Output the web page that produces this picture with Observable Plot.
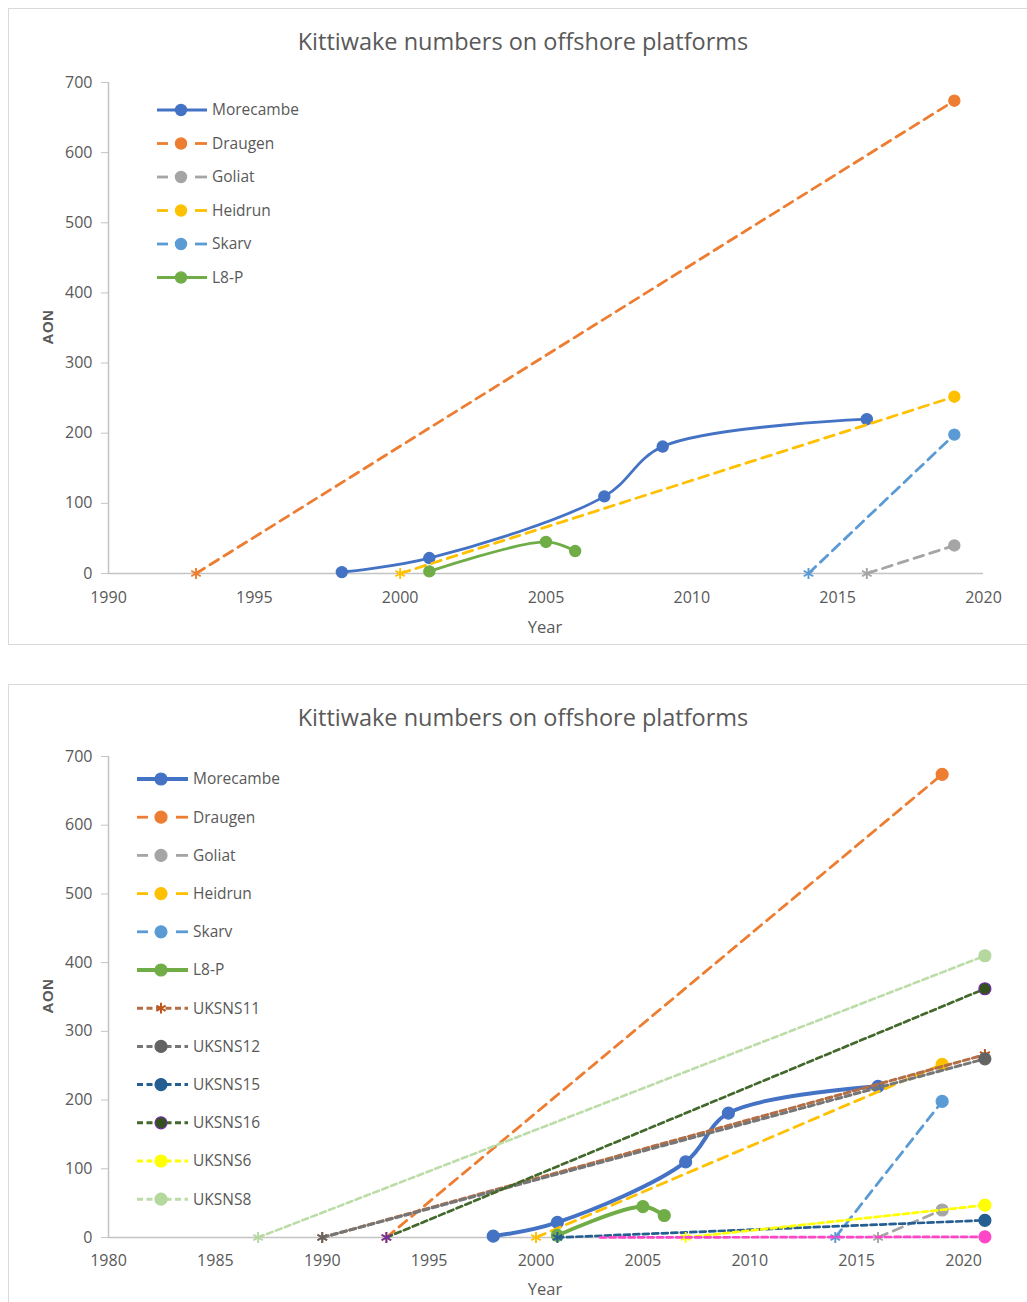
<!DOCTYPE html>
<html>
<head>
<meta charset="utf-8">
<script src="https://cdn.jsdelivr.net/npm/d3@7"></script>
<script src="https://cdn.jsdelivr.net/npm/@observablehq/plot@0.6"></script>
<style>
  html, body { margin: 0; padding: 0; background: #fff; }
  #page { position: relative; width: 1027px; height: 1302px; overflow: hidden; background: #fff;
          font-family: "Open Sans", sans-serif; color: #595959; }
  .box { position: absolute; border: 1.5px solid #d9d9d9; box-sizing: border-box; }
  .abs { position: absolute; }
  .title { position: absolute; font-size: 23.5px; color: #595959; white-space: nowrap; transform: translate(-50%, -50%); }
  .xlab { position: absolute; font-size: 16.5px; color: #595959; transform: translate(-50%, -50%); }
  .ylab { position: absolute; font-size: 15px; font-weight: 600; color: #595959; font-family: "Liberation Sans", Arial, sans-serif;
          transform: translate(-50%, -50%) rotate(-90deg); letter-spacing: 0.5px; }
</style>
</head>
<body>
<div id="page"></div>
<script>
// Kittiwake AON (apparently occupied nests) counted on each platform, [year, AON]
const morecambe = [[1998, 2], [2001, 22], [2007, 110], [2009, 181], [2016, 220]];
const draugen   = [[1993, 0], [2019, 674]];
const goliat    = [[2016, 0], [2019, 40]];
const heidrun   = [[2000, 0], [2019, 252]];
const skarv     = [[2014, 0], [2019, 198]];
const l8p       = [[2001, 3], [2005, 45], [2006, 32]];
const uksns11   = [[1990, 0], [2021, 266]];
const uksns12   = [[1990, 0], [2021, 260]];
const uksns15   = [[2001, 0], [2021, 25]];
const uksns16   = [[1993, 0], [2021, 362]];
const uksns6    = [[2007, 0], [2021, 47]];
const uksns8    = [[1987, 0], [2021, 410]];
const unlisted  = [[2003, 0], [2021, 1]];

const yTicks = [0, 100, 200, 300, 400, 500, 600, 700];
const xTicksTop = [1990, 1995, 2000, 2005, 2010, 2015, 2020];
const xTicksBottom = [1980, 1985, 1990, 1995, 2000, 2005, 2010, 2015, 2020];

const seriesData = {
  "Morecambe": morecambe, "Draugen": draugen, "Goliat": goliat, "Heidrun": heidrun,
  "Skarv": skarv, "L8-P": l8p, "UKSNS11": uksns11, "UKSNS12": uksns12, "UKSNS15": uksns15,
  "UKSNS16": uksns16, "UKSNS6": uksns6, "UKSNS8": uksns8, "unlisted": unlisted
};

// Line and marker styling per series
const styles = {
  "Morecambe": {color: "#4472C4", mfill: "#4472C4", mstroke: "#4472C4", width: 2.8, smooth: true, kind: "solid"},
  "Draugen":   {color: "#ED7D31", mfill: "#ED7D31", mstroke: "#ED7D31", width: 2.8, kind: "long"},
  "Goliat":    {color: "#A5A5A5", mfill: "#A5A5A5", mstroke: "#A5A5A5", width: 2.8, kind: "long"},
  "Heidrun":   {color: "#FFC000", mfill: "#FFC000", mstroke: "#FFC000", width: 2.8, kind: "long"},
  "Skarv":     {color: "#5B9BD5", mfill: "#5B9BD5", mstroke: "#5B9BD5", width: 2.8, kind: "long"},
  "L8-P":      {color: "#70AD47", mfill: "#70AD47", mstroke: "#70AD47", width: 2.8, smooth: true, kind: "solid"},
  "UKSNS11":   {color: "#B36E45", mfill: "none", mstroke: "#BF5519", width: 3, kind: "short", symbol: "asterisk"},
  "UKSNS12":   {color: "#767676", mfill: "#636363", mstroke: "#636363", width: 3, kind: "short"},
  "UKSNS15":   {color: "#255E91", mfill: "#255E91", mstroke: "#255E91", width: 2.7, kind: "short"},
  "UKSNS16":   {color: "#43682B", mfill: "#33521F", mstroke: "#7030A0", width: 2.7, kind: "short"},
  "UKSNS6":    {color: "#FFFF00", mfill: "#FFFF00", mstroke: "#FFFF00", width: 2.7, kind: "short"},
  "UKSNS8":    {color: "#BCDCA8", mfill: "#B4D89E", mstroke: "#B4D89E", width: 2.6, kind: "short"},
  "unlisted":  {color: "#FF45C8", mfill: "#FF45C8", mstroke: "#FF45C8", width: 2.7, kind: "short", hideStart: true}
};
const dashes = {solid: null, long: "10,6.5", short: "6,3.5"};

const page = document.getElementById("page");

function addBox(left, top, width, height) {
  const b = document.createElement("div");
  b.className = "box";
  Object.assign(b.style, {left: left + "px", top: top + "px", width: width + "px", height: height + "px"});
  page.appendChild(b);
}
function addText(cls, text, x, y) {
  const t = document.createElement("div");
  t.className = cls;
  t.textContent = text;
  Object.assign(t.style, {left: x + "px", top: y + "px"});
  page.appendChild(t);
}

function makeChart(cfg) {
  const marks = [
    Plot.ruleX([cfg.xDomain[0]], {stroke: "#c4c4c4", strokeWidth: 1.5}),
    Plot.ruleY([0], {stroke: "#c4c4c4", strokeWidth: 1.5}),
    Plot.axisY({ticks: yTicks, tickSize: 7, tickPadding: 9, stroke: "#c4c4c4", fill: "#595959",
                label: null, tickFormat: d => String(d)}),
    Plot.axisX({ticks: cfg.xTicks, tickSize: 0, tickPadding: cfg.xPad, fill: "#595959",
                label: null, tickFormat: d => String(d)})
  ];
  for (const name of cfg.series) {
    const st = styles[name];
    const rows = seriesData[name].map(([year, aon]) => ({year, aon}));
    const w = st.width * (st.kind === "solid" ? cfg.kSolid : 1);
    marks.push(Plot.line(rows, {
      x: "year", y: "aon", stroke: st.color,
      strokeWidth: w,
      strokeDasharray: dashes[st.kind],
      curve: st.smooth ? "catmull-rom" : "linear"
    }));
    if (!st.hideStart) {
      marks.push(Plot.dot(rows.filter(d => d.aon === 0), {
        x: "year", y: "aon", symbol: "asterisk", r: 5.2, stroke: st.mstroke, strokeWidth: 1.9
      }));
    }
    const nonzero = rows.filter(d => d.aon !== 0);
    if (st.symbol === "asterisk") {
      marks.push(Plot.dot(nonzero, {x: "year", y: "aon", symbol: "asterisk", r: 5.4, stroke: st.mstroke, strokeWidth: 2}));
    } else {
      marks.push(Plot.dot(nonzero, {x: "year", y: "aon", r: cfg.r, fill: st.mfill,
                                    stroke: st.mstroke, strokeWidth: 1.2}));
    }
  }
  const svg = Plot.plot({
    width: cfg.width, height: cfg.height,
    marginLeft: cfg.ml, marginRight: cfg.mr, marginTop: cfg.mt, marginBottom: cfg.mb,
    x: {type: "linear", domain: cfg.xDomain},
    y: {type: "linear", domain: [0, 700]},
    style: {fontFamily: "Open Sans, sans-serif", fontSize: "16px", background: "transparent", overflow: "visible"},
    marks
  });
  svg.classList.add("abs");
  svg.style.left = cfg.left + "px";
  svg.style.top = cfg.top + "px";
  page.appendChild(svg);
}

function makeLegend(cfg) {
  const svg = d3.select(page).append("svg")
    .attr("class", "abs")
    .style("left", "0px").style("top", cfg.top0 + "px")
    .attr("width", 400).attr("height", cfg.step * cfg.series.length + 20)
    .style("overflow", "visible");
  cfg.series.forEach((name, i) => {
    const st = styles[name];
    const y = cfg.y0 + i * cfg.step - cfg.top0;
    const g = svg.append("g");
    const x0 = cfg.x0, x1 = cfg.x0 + cfg.len, xm = cfg.xm;
    if (st.kind === "long") {
      g.append("line").attr("x1", x0).attr("x2", x0 + 11).attr("y1", y).attr("y2", y)
        .attr("stroke", st.color).attr("stroke-width", 2.8);
      g.append("line").attr("x1", x1 - 12).attr("x2", x1).attr("y1", y).attr("y2", y)
        .attr("stroke", st.color).attr("stroke-width", 2.8);
    } else {
      g.append("line").attr("x1", x0).attr("x2", x1).attr("y1", y).attr("y2", y)
        .attr("stroke", st.color).attr("stroke-width", st.kind === "solid" ? cfg.solidW : 3)
        .attr("stroke-dasharray", dashes[st.kind]);
    }
    if (st.symbol === "asterisk") {
      const a = d3.symbol(d3.symbolAsterisk, 80)();
      g.append("path").attr("d", a).attr("transform", `translate(${xm},${y})`)
        .attr("fill", "none").attr("stroke", st.mstroke).attr("stroke-width", 2);
    } else {
      g.append("circle").attr("cx", xm).attr("cy", y).attr("r", cfg.r)
        .attr("fill", st.mfill).attr("stroke", st.mstroke).attr("stroke-width", 1.2);
    }
    g.append("text").attr("x", x1 + 5).attr("y", y).attr("dy", "0.35em")
      .attr("fill", "#595959").style("font-family", "Open Sans, sans-serif").style("font-size", "15.5px")
      .text(name);
  });
}

// Upper chart: six platforms
addBox(8, 8, 1040, 637);
makeChart({
  left: 0, top: 0, width: 1027, height: 645,
  ml: 108, mr: 44, mt: 82, mb: 72, xPad: 18,
  xDomain: [1990, 2020], xTicks: xTicksTop, kSolid: 1, r: 5.6,
  series: ["Morecambe", "Draugen", "Goliat", "Heidrun", "Skarv", "L8-P"]
});
addText("title", "Kittiwake numbers on offshore platforms", 523, 41);
addText("xlab", "Year", 545, 626);
addText("ylab", "AON", 47, 327);
makeLegend({
  top0: 90, y0: 110, step: 33.5, x0: 157, len: 50, xm: 181, r: 5.6, solidW: 3,
  series: ["Morecambe", "Draugen", "Goliat", "Heidrun", "Skarv", "L8-P"]
});

// Lower chart: platforms plus the UK southern North Sea structures
addBox(8, 684, 1040, 640);
makeChart({
  left: 0, top: 684, width: 1027, height: 618,
  ml: 108, mr: 42.6, mt: 72, mb: 65, xPad: 17,
  xDomain: [1980, 2021], xTicks: xTicksBottom, kSolid: 1.4, r: 6,
  series: ["Morecambe", "Draugen", "Goliat", "Heidrun", "Skarv", "L8-P",
           "UKSNS11", "UKSNS12", "UKSNS15", "UKSNS16", "UKSNS6", "UKSNS8", "unlisted"]
});
addText("title", "Kittiwake numbers on offshore platforms", 523, 717);
addText("xlab", "Year", 545, 1288);
addText("ylab", "AON", 47, 996);
makeLegend({
  top0: 760, y0: 779, step: 38.2, x0: 137, len: 51, xm: 161, r: 6, solidW: 3.8,
  series: ["Morecambe", "Draugen", "Goliat", "Heidrun", "Skarv", "L8-P",
           "UKSNS11", "UKSNS12", "UKSNS15", "UKSNS16", "UKSNS6", "UKSNS8"]
});
</script>
</body>
</html>
